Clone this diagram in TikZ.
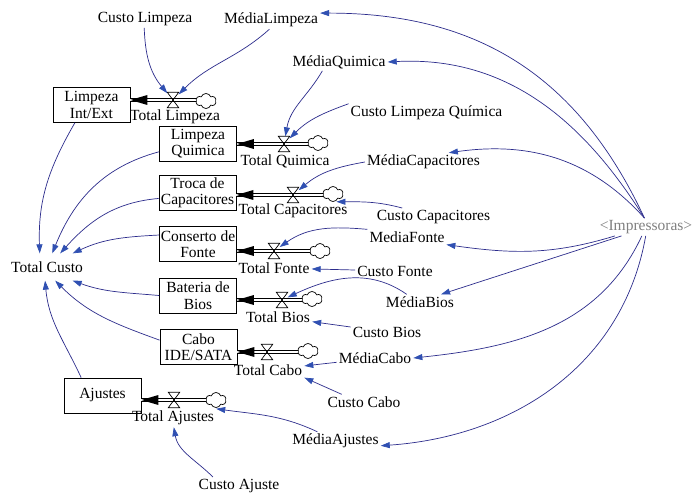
\documentclass[tikz,border=0pt]{standalone}
\usepackage{fontspec}
\setmainfont{Liberation Serif}
\usetikzlibrary{arrows.meta,shapes.symbols}

\definecolor{linkblue}{RGB}{44,44,140}
\definecolor{tipblue}{RGB}{48,80,178}
\definecolor{shadowgray}{RGB}{128,128,128}

\begin{document}
\begin{tikzpicture}[x=1pt,y=1pt,
  every node/.style={font=\fontsize{15.5}{16.5}\selectfont},
  lbl/.style={inner sep=2pt},
  stock/.style={draw, line width=0.8pt, minimum width=77pt, minimum height=35pt, inner sep=1pt, align=center},
  valvebox/.style={rectangle, minimum width=11pt, minimum height=15pt, inner sep=0pt},
  valveline/.style={draw=black, line width=0.7pt, line join=miter},
  puff/.style={cloud, cloud puffs=6, cloud puff arc=140, aspect=1.4, draw, line width=0.7pt,
    minimum width=20pt, minimum height=15pt, inner sep=0pt, fill=white},
  pipe/.style={draw=black, line width=0.7pt, double=white, double distance=2.2pt},
  pipetip/.style={fill=black},
  conn/.style={draw=linkblue, line width=0.7pt, -{Triangle[length=9pt,width=6pt,color=tipblue]}}
]
\useasboundingbox (0,0) rectangle (692,-494);
\fill[white] (0,0) rectangle (692,-494);

% ---------- stocks ----------
\node[stock] (LimpInt) at (91.5,-105) {Limpeza\\Int/Ext};
\node[stock] (LimpQ)   at (198,-143.5) {Limpeza\\Quimica};
\node[stock] (Troca)   at (197.5,-193) {Troca de\\Capacitores};
\node[stock] (Fonte)   at (198,-244) {Conserto de\\Fonte};
\node[stock] (Bios)    at (198,-295.5) {Bateria de\\Bios};
\node[stock] (Cabo)    at (198.5,-347) {Cabo\\IDE/SATA};
\node[stock] (Ajustes) at (102.5,-395.5) {Ajustes};

\node[lbl, inner ysep=8pt] (TotalCusto) at (47,-267) {Total Custo};

% ---------- flows: valve positions and sources ----------
\node[valvebox] (vLimp)  at (173,-100) {};
\node[valvebox] (vQuim)  at (284,-144) {};
\node[valvebox] (vCap)   at (293,-195) {};
\node[valvebox] (vFonte) at (274,-251) {};
\node[valvebox] (vBios)  at (282,-300) {};
\node[valvebox] (vCabo)  at (267,-352) {};
\node[valvebox] (vAj)    at (174,-400) {};

\coordinate (cLimp)  at (206,-101);
\coordinate (cQuim)  at (318,-143);
\coordinate (cCap)   at (333,-194);
\coordinate (cFonte) at (320,-251);
\coordinate (cBios)  at (312,-299);
\coordinate (cCabo)  at (308,-351);
\coordinate (cAj)    at (216,-400);

% pipes from each source into its stock
\foreach \c/\s/\v in {cLimp/LimpInt/vLimp,cQuim/LimpQ/vQuim,cCap/Troca/vCap,cFonte/Fonte/vFonte,
                      cBios/Bios/vBios,cCabo/Cabo/vCabo,cAj/Ajustes/vAj}
  \draw[pipe] (\c |- \v) -- (\s.east |- \v);

% hourglass valves and source clouds above the pipes
\foreach \v in {vLimp,vQuim,vCap,vFonte,vBios,vCabo,vAj}
  \draw[valveline] (\v.north west) -- (\v.north east) -- (\v.south west) -- (\v.south east) -- cycle;
\foreach \c in {cLimp,cQuim,cCap,cFonte,cBios,cCabo,cAj}
  \node[puff] at (\c) {};

% filled heads where the pipes enter the stocks
\foreach \s/\v in {LimpInt/vLimp,LimpQ/vQuim,Troca/vCap,Fonte/vFonte,Bios/vBios,Cabo/vCabo,Ajustes/vAj}
  \fill[pipetip] (\s.east |- \v) -- ++(17,5) -- ++(0,-10) -- cycle;

% flow names
\node[lbl] (TotLimp)  at (175,-117) {Total Limpeza};
\node[lbl] (TotQuim)  at (285,-161) {Total Quimica};
\node[lbl] (TotCap)   at (293,-211) {Total Capacitores};
\node[lbl] (TotFonte) at (274,-268) {Total Fonte};
\node[lbl] (TotBios)  at (278,-317) {Total Bios};
\node[lbl] (TotCabo)  at (268,-370) {Total Cabo};
\node[lbl] (TotAj)    at (173,-418) {Total Ajustes};

% ---------- auxiliaries ----------
\node[lbl] (CustoLimpeza) at (145,-19) {Custo Limpeza};
\node[lbl] (MediaLimpeza) at (271,-20) {MédiaLimpeza};
\node[lbl] (MediaQuimica) at (339,-62) {MédiaQuimica};
\node[lbl] (CustoLQ)      at (426.5,-113) {Custo Limpeza Química};
\node[lbl] (MediaCap)     at (423.5,-162) {MédiaCapacitores};
\node[lbl] (CustoCap)     at (433.5,-217) {Custo Capacitores};
\node[lbl, text=shadowgray] (Impressoras) at (646,-227) {<Impressoras>};
\node[lbl] (MediaFonte)   at (407,-237) {MediaFonte};
\node[lbl] (CustoFonte)   at (395,-271) {Custo Fonte};
\node[lbl] (MediaBios)    at (420,-302) {MédiaBios};
\node[lbl] (CustoBios)    at (387,-332) {Custo Bios};
\node[lbl] (MediaCabo)    at (375,-358) {MédiaCabo};
\node[lbl] (CustoCabo)    at (364,-402) {Custo Cabo};
\node[lbl] (MediaAjustes) at (335.5,-441) {MédiaAjustes};
\node[lbl] (CustoAjuste)  at (239,-486) {Custo Ajuste};

% ---------- stocks feeding the total ----------
\draw[conn] (LimpInt.-133) to[out=-120,in=92] (TotalCusto.118);
\draw[conn] (LimpQ.192)    to[out=195,in=68]  (TotalCusto.69);
\draw[conn] (Troca.188)    to[out=185,in=48]  (TotalCusto.46);
\draw[conn] (Fonte.167)    to[out=183,in=25]  (TotalCusto.28);
\draw[conn] (Bios.west)    to[out=175,in=-20] (TotalCusto.-28);
\draw[conn] (Cabo.170)     to[out=160,in=-45] (TotalCusto.-59);
\draw[conn] (Ajustes.140)  to[out=115,in=-85] (TotalCusto.-98);

% ---------- printers driving the averages ----------
\draw[conn] (Impressoras.100) to[out=115,in=0,looseness=1.05] (MediaLimpeza.8);
\draw[conn] (Impressoras.100) to[out=122,in=3]  (MediaQuimica.east);
\draw[conn] (Impressoras.100) to[out=132,in=8]  (MediaCap.20);
\draw[conn] (Impressoras.196) to[out=197,in=-8] (MediaFonte.-11);
\draw[conn] (Impressoras.200) -- (MediaBios.20);
\draw[conn] (Impressoras.-115) to[out=-115,in=6] (MediaCabo.east);
\draw[conn] (Impressoras.-92) to[out=-100,in=4] (MediaAjustes.-6);

% ---------- inputs of each flow ----------
\draw[conn] (CustoLimpeza.-95) to[out=-88,in=130] (vLimp);
\draw[conn] (MediaLimpeza.-100) to[out=222,in=45] (vLimp);
\draw[conn] (MediaQuimica.-152) to[out=-120,in=80] (vQuim);
\draw[conn] (CustoLQ.north west) to[out=200,in=45] (vQuim);
\draw[conn] (MediaCap.west) to[out=190,in=40] (vCap);
\draw[conn] (CustoCap.164) to[out=165,in=0] (TotCap.12);
\draw[conn] (MediaFonte.north west) to[out=175,in=35] (vFonte);
\draw[conn] (CustoFonte) -- (TotFonte);
\draw[conn] (MediaBios.150) to[out=145,in=25] (vBios);
\draw[conn] (CustoBios) -- (TotBios);
\draw[conn] (MediaCabo) -- (TotCabo);
\draw[conn] (CustoCabo.161) -- (TotCabo.south east);
\draw[conn] (MediaAjustes.153) to[out=155,in=-8] (TotAj.north east);
\draw[conn] (CustoAjuste.161) to[out=135,in=-80] (TotAj.-85);
\end{tikzpicture}
\end{document}
